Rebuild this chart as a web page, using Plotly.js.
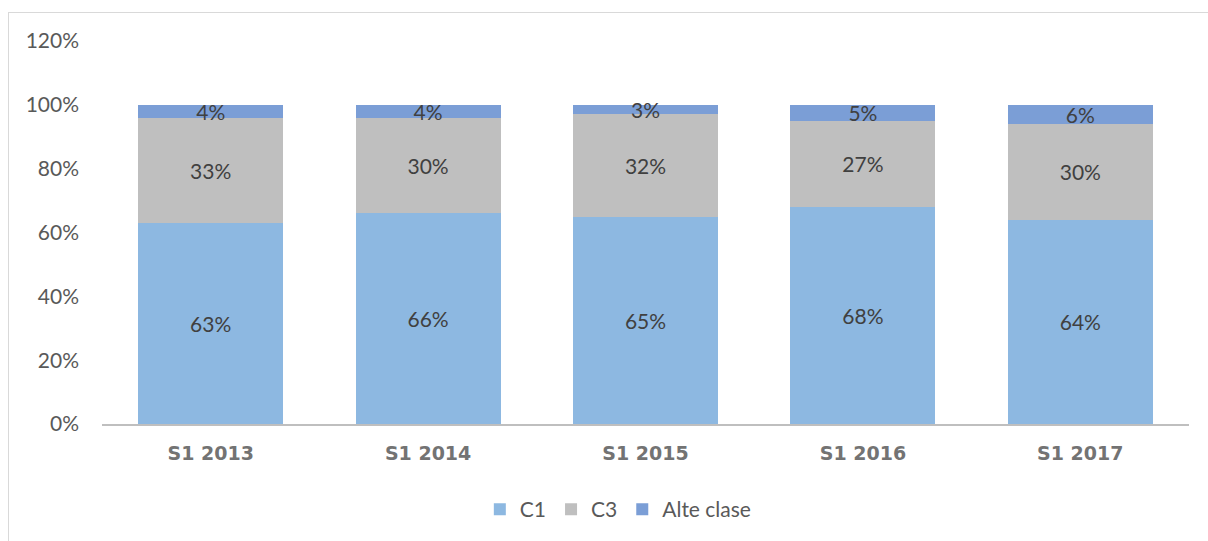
<!DOCTYPE html>
<html>
<head>
<meta charset="utf-8">
<script src="https://cdn.plot.ly/plotly-3.0.1.min.js"></script>
<style>
html,body{margin:0;padding:0;background:#fff;}
#wrap{position:relative;width:1208px;height:541px;overflow:hidden;}
#chart{position:absolute;left:0;top:0;width:1208px;height:541px;}
#frame{position:absolute;left:8px;top:12px;width:1400px;height:800px;border-left:1.5px solid #d9d9d9;border-top:1.5px solid #d9d9d9;pointer-events:none;}
</style>
</head>
<body>
<div id="wrap"><div id="chart"></div><div id="frame"></div></div>
<script>
const categories = ["S1 2013", "S1 2014", "S1 2015", "S1 2016", "S1 2017"];
const c1 = [0.63, 0.66, 0.65, 0.68, 0.64];
const c3 = [0.33, 0.30, 0.32, 0.27, 0.30];
const alte = [0.04, 0.04, 0.03, 0.05, 0.06];
const seriesNames = ["C1", "C3", "Alte clase"];
const colors = ["#8db8e1", "#bfbfbf", "#7b9ed6"];

const font = "Lato, 'Open Sans', sans-serif";
function mk(vals, i) {
  return {
    type: "bar", x: categories, y: vals, name: seriesNames[i],
    marker: {color: colors[i], line: {width: 0}},
    text: vals.map(v => Math.round(v * 100) + "%"),
    textposition: "inside", insidetextanchor: "middle",
    constraintext: "none", textangle: 0,
    textfont: {family: font, size: 21, color: "#404040"},
    hoverinfo: "skip"
  };
}
const data = [mk(c1, 0), mk(c3, 1), mk(alte, 2)];
const layout = {
  width: 1208, height: 541,
  margin: {l: 102, r: 19, t: 41, b: 116},
  barmode: "stack", bargap: 0.333,
  paper_bgcolor: "rgba(0,0,0,0)", plot_bgcolor: "#fff",
  font: {family: font, color: "#595959", size: 21},
  xaxis: {
    showline: true, linecolor: "#bfbfbf", linewidth: 1.5,
    ticks: "", ticklabelstandoff: 12,
    tickfont: {family: "'DejaVu Sans', sans-serif", size: 19, color: "#737373", weight: "bold"},
    showgrid: false, zeroline: false, fixedrange: true
  },
  yaxis: {
    range: [0, 1.2], dtick: 0.2, tick0: 0, tickformat: ".0%",
    showgrid: false, zeroline: false, showline: false,
    ticks: "", ticklabelstandoff: 22,
    tickfont: {family: font, size: 21, color: "#595959"}, fixedrange: true
  },
  showlegend: true,
  legend: {
    orientation: "h", x: 0.475, xanchor: "center", y: -0.22, yanchor: "middle",
    font: {family: font, size: 21, color: "#595959"},
    traceorder: "normal", itemwidth: 30
  }
};
Plotly.newPlot("chart", data, layout, {displayModeBar: false, staticPlot: true});
</script>
</body>
</html>
